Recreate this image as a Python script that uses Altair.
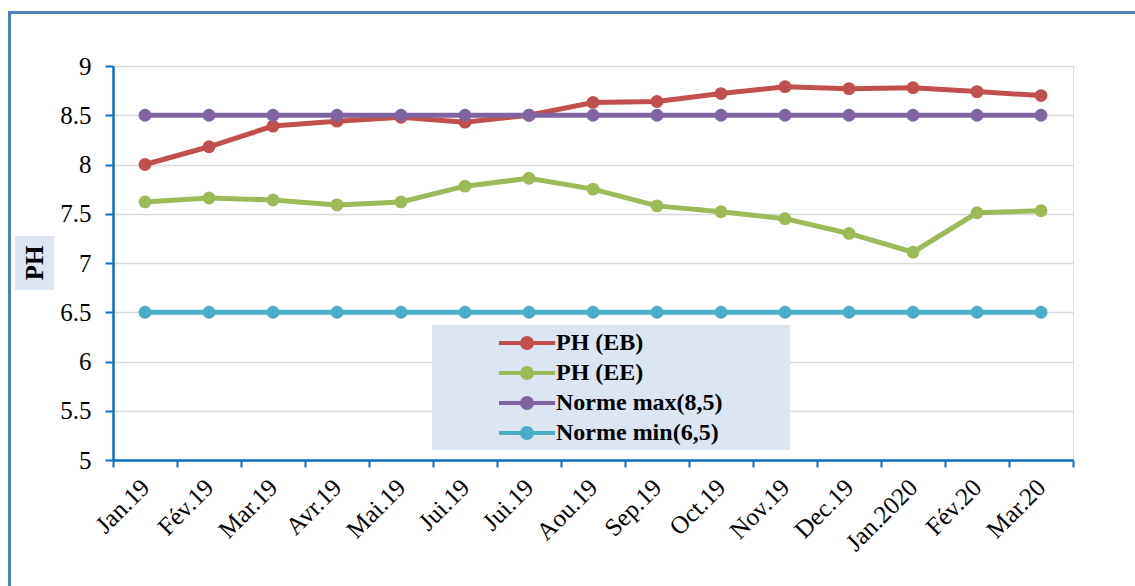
import altair as alt
import pandas as pd

months = ["Jan.19", "Fév.19", "Mar.19", "Avr.19", "Mai.19", "Jui.19", "Jui.19",
          "Aou.19", "Sep.19", "Oct.19", "Nov.19", "Dec.19", "Jan.2020", "Fév.20", "Mar.20"]
ph_eb = [8.00, 8.18, 8.39, 8.44, 8.48, 8.43, 8.50, 8.63, 8.64, 8.72, 8.79, 8.77, 8.78, 8.74, 8.70]
ph_ee = [7.62, 7.66, 7.64, 7.59, 7.62, 7.78, 7.86, 7.75, 7.58, 7.52, 7.45, 7.30, 7.11, 7.51, 7.53]
norme_max = [8.5] * 15
norme_min = [6.5] * 15
series_names = ["PH (EB)", "PH (EE)", "Norme max(8,5)", "Norme min(6,5)"]
series_colors = ["#C0504D", "#9BBB59", "#8064A2", "#4BACC6"]
y_title = ["PH"]

rows = []
for name, vals in zip(series_names, [ph_eb, ph_ee, norme_max, norme_min]):
    for i, v in enumerate(vals):
        rows.append({"idx": i, "serie": name, "value": v})
df = pd.DataFrame(rows)

label_expr = "[" + ",".join("'" + m + "'" for m in months) + "][datum.value]"
font = "Liberation Serif"
axis_blue = "#0A6FC2"

sym_path = ("M-2.8,0L2.8,0"
            "M0.5,0A0.5,0.5,0,1,1,-0.5,0A0.5,0.5,0,1,1,0.5,0"
            "M0.25,0A0.25,0.25,0,1,1,-0.25,0A0.25,0.25,0,1,1,0.25,0"
            "M0.08,0A0.08,0.08,0,1,1,-0.08,0A0.08,0.08,0,1,1,0.08,0")

one = pd.DataFrame({"a": [0]})

# decorative frame
frame = alt.Chart(one).mark_rect(fill=None, stroke="#4F81BD", strokeWidth=3, clip=False).encode(
    x=alt.value(-103.5), x2=alt.value(1040), y=alt.value(-53.5), y2=alt.value(540)
)
# axis title background and title
title_bg = alt.Chart(one).mark_rect(fill="#DCE6F2", clip=False).encode(
    x=alt.value(-98), x2=alt.value(-59), y=alt.value(170), y2=alt.value(224)
)
title_txt = alt.Chart(pd.DataFrame({"t": y_title})).mark_text(
    font=font, fontSize=25, fontWeight="bold", color="black", angle=270,
    align="center", baseline="middle", clip=False
).encode(text="t:N", x=alt.value(-78), y=alt.value(197))
# legend background
legend_bg = alt.Chart(one).mark_rect(fill="#DCE6F2").encode(
    x=alt.value(319), x2=alt.value(677), y=alt.value(259), y2=alt.value(384)
)

lines = alt.Chart(df).mark_line(
    strokeWidth=5,
    point=alt.OverlayMarkDef(filled=True, size=165, opacity=1),
).encode(
    x=alt.X("idx:O",
            scale=alt.Scale(type="band", paddingInner=0, paddingOuter=0),
            axis=alt.Axis(title=None, labelExpr=label_expr, labelAngle=-45,
                          labelAlign="right", labelBaseline="middle",
                          labelFont=font, labelFontSize=25, labelColor="black",
                          domainColor=axis_blue, domainWidth=2.5, tickColor=axis_blue,
                          tickWidth=2, tickSize=7, tickBand="extent", labelPadding=16)),
    y=alt.Y("value:Q",
            scale=alt.Scale(domain=[5, 9], nice=False, zero=False),
            axis=alt.Axis(values=[5, 5.5, 6, 6.5, 7, 7.5, 8, 8.5, 9], format="~g",
                          title=None,
                          labelFont=font, labelFontSize=25, labelColor="black", labelPadding=14,
                          domainColor=axis_blue, domainWidth=2.5, tickColor=axis_blue,
                          tickWidth=2, tickSize=8, gridColor="#D9D9D9", gridWidth=1.5)),
    color=alt.Color("serie:N",
                    scale=alt.Scale(domain=series_names, range=series_colors),
                    legend=alt.Legend(title=None, orient="none", legendX=402, legendY=265,
                                      symbolType=sym_path, symbolSize=400,
                                      symbolStrokeWidth=4, symbolOpacity=1, labelFont=font,
                                      labelFontSize=24, labelFontWeight="bold",
                                      labelColor="black", labelOffset=17, rowPadding=4,
                                      padding=0, labelLimit=300)),
)

chart = alt.layer(frame, title_bg, title_txt, legend_bg, lines).properties(
    width=960, height=394,
    autosize=alt.AutoSizeParams(type="none"),
    padding={"left": 113, "top": 66, "right": 62, "bottom": 126},
).configure_view(stroke=None).configure(background="white")

chart.save("out.html", embed_options={"renderer": "svg", "actions": False})
